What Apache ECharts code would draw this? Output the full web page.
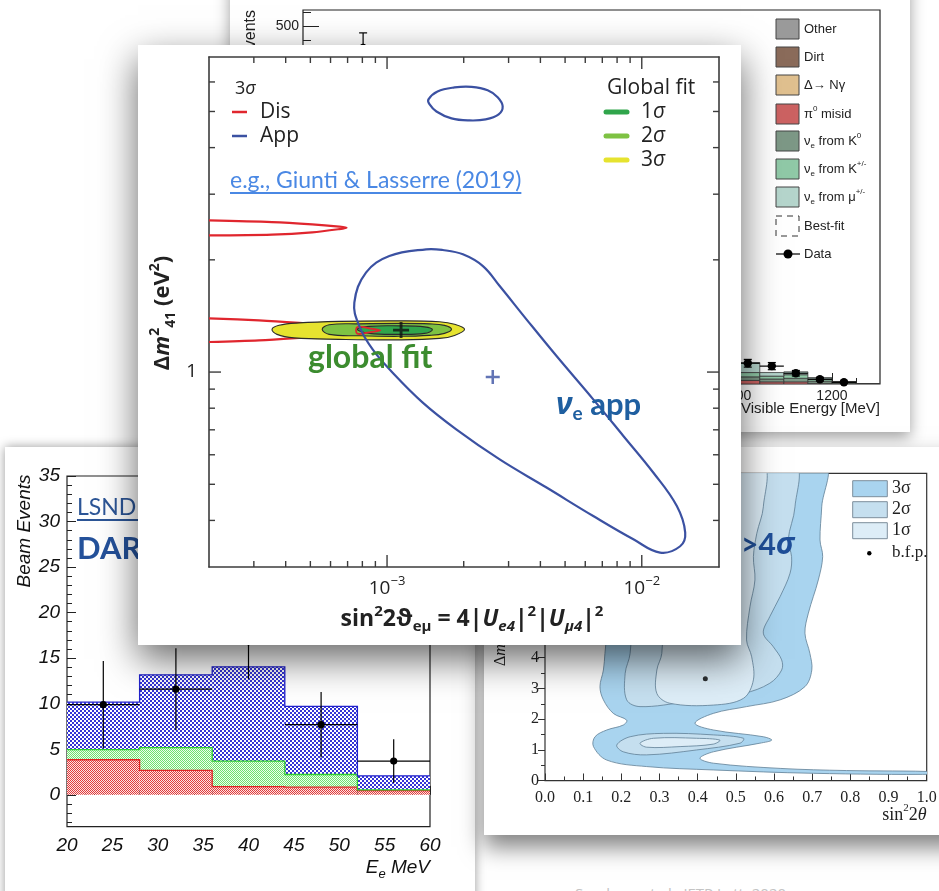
<!DOCTYPE html>
<html lang="en">
<head>
<meta charset="utf-8">
<title>Short-baseline oscillation hints</title>
<script src="https://cdn.jsdelivr.net/npm/echarts@6.0.0/dist/echarts.min.js"></script>
<style>
  html, body { margin:0; padding:0; background:#fff; }
  body { width:939px; height:891px; overflow:hidden; position:relative; }
  .panel { position:absolute; background:#fff; }
  #miniboone { left:230px; top:-20px; width:680px; height:452px; box-shadow:0 5px 14px rgba(0,0,0,.38); z-index:1; }
  #lsnd { left:5px; top:447px; width:470px; height:470px; box-shadow:0 0 10px rgba(0,0,0,.4); z-index:2; }
  #neutrino4 { left:484px; top:447px; width:480px; height:388px; box-shadow:0 12px 22px rgba(0,0,0,.5); z-index:2; }
  #globalfit { left:138px; top:45px; width:603px; height:600px; box-shadow:0 14px 36px rgba(0,0,0,.6); z-index:3; }
  #caption { position:absolute; left:575px; top:883px; font:15px 'Open Sans',sans-serif; color:#c4c4c4; white-space:nowrap; z-index:0; }
</style>
</head>
<body>
<div id="miniboone" class="panel"></div>
<div id="lsnd" class="panel"></div>
<div id="neutrino4" class="panel"></div>
<div id="globalfit" class="panel"></div>
<div id="caption">Serebrov et al., JETP Lett. 2020</div>
<script>
// ---------------------------------------------------------------------------
// Global-fit panel: sin^2 2theta_emu vs Δm²41 (log–log)
// ---------------------------------------------------------------------------
const gfXRange = [2e-4, 0.0201];
const gfYRange = [0.3, 7];
const gfXMajor = [1e-3, 1e-2];
const gfXMinor = [3e-4,4e-4,5e-4,6e-4,7e-4,8e-4,9e-4,2e-3,3e-3,4e-3,5e-3,6e-3,7e-3,8e-3,9e-3];
const gfYMajor = [1];
const gfYMinor = [0.4,0.5,0.6,0.7,0.8,0.9,2,3,4,5,6];

// 3σ disappearance contour (two islands, open towards small mixing)
const disUpper = [[2.0e-4,2.552],[3.535e-4,2.526],[5.081e-4,2.490],[6.490e-4,2.455],[6.933e-4,2.439],
                  [6.490e-4,2.418],[5.081e-4,2.370],[3.535e-4,2.337],[2.0e-4,2.326]];
const disLower = [[2.0e-4,1.393],[3.142e-4,1.376],[4.516e-4,1.355],[6.490e-4,1.330],[8.518e-4,1.310],
                  [9.410e-4,1.294],[8.518e-4,1.278],[6.490e-4,1.258],[4.516e-4,1.235],[3.142e-4,1.216],[2.0e-4,1.204]];
const disTip   = [[7.64e-4,1.320],[8.518e-4,1.310],[9.410e-4,1.294],[8.518e-4,1.278],[7.64e-4,1.268]];

// 3σ appearance contours
const appUpper = [[1.454e-3,5.39],[1.578e-3,5.66],[1.841e-3,5.80],[2.147e-3,5.82],[2.483e-3,5.70],
                  [2.718e-3,5.46],[2.844e-3,5.16],[2.743e-3,4.91],[2.438e-3,4.76],[2.109e-3,4.73],
                  [1.791e-3,4.79],[1.563e-3,5.00],[1.467e-3,5.23]];
const appLower = [[7.44e-4,1.535],[7.78e-4,1.328],[8.78e-4,1.150],[1.052e-3,0.996],[1.381e-3,0.828],
                  [1.869e-3,0.702],[2.768e-3,0.583],[4.227e-3,0.490],[6.449e-3,0.411],[9.267e-3,0.356],
                  [1.180e-2,0.328],[1.415e-2,0.341],[1.481e-2,0.371],[1.373e-2,0.437],[1.111e-2,0.537],
                  [8.466e-3,0.674],[6.449e-3,0.845],[4.628e-3,1.104],[3.526e-3,1.385],[2.768e-3,1.701],
                  [2.379e-3,1.924],[1.985e-3,2.069],[1.655e-3,2.125],[1.424e-3,2.134],[1.021e-3,2.047],
                  [8.265e-4,1.848]];

// global fit allowed regions
const fit3sigma = [[2.015e-3,1.302],[1.841e-3,1.343],[1.607e-3,1.364],[1.118e-3,1.372],[6.49e-4,1.368],
                   [4.516e-4,1.355],[3.767e-4,1.335],[3.535e-4,1.302],[3.699e-4,1.262],[4.315e-4,1.235],
                   [6.49e-4,1.224],[1.118e-3,1.220],[1.607e-3,1.231],[1.841e-3,1.254]];
const fit2sigma = [[1.791e-3,1.302],[1.681e-3,1.334],[1.467e-3,1.347],[1.118e-3,1.351],[7.78e-4,1.347],
                   [5.927e-4,1.339],[5.563e-4,1.302],[5.927e-4,1.262],[7.78e-4,1.251],[1.118e-3,1.247],
                   [1.467e-3,1.254],[1.681e-3,1.270]];
const fit1sigma = [[1.507e-3,1.298],[1.403e-3,1.322],[1.118e-3,1.330],[8.518e-4,1.326],[7.64e-4,1.302],
                   [8.518e-4,1.270],[1.118e-3,1.262],[1.403e-3,1.270]];
const appBest = [[2.60e-3, 0.970]];
const fitBest = [[1.135e-3, 1.296]];

// ---------------------------------------------------------------------------
// MiniBooNE visible-energy spectrum (high-energy tail)
// ---------------------------------------------------------------------------
const mbEdges  = [1000,1050,1100,1150,1200,1250,1300];
const mbPi0    = [5, 3, 3, 1, 0.5, 0.2];
const mbNueK0  = [5, 4, 5, 3, 1.5, 0.2];
const mbNueKpm = [6, 4, 5, 3, 1, 0.1];
const mbNueMu  = [14, 5, 4, 2, 0.5, 0];
const mbDataE   = [225, 1025, 1075, 1125, 1175, 1225];
const mbData    = [470, 29, 25, 15, 6.6, 2.4];
const mbDataErr = [21, 5.4, 5, 3.9, 2.6, 1.5];
const mbXTicks = [200,400,600,800,1000,1200];
const mbXMinor = [150,250,300,350,450,500,550,650,700,750,850,900,950,1050,1100,1150,1250];
const mbYLabels = [0,100,200,300,400,500];
const mbYTicks  = [100,200,300,400,500];
const mbYMinor  = [20,40,60,80,120,140,160,180,220,240,260,280,320,340,360,380,420,440,460,480,520];

// ---------------------------------------------------------------------------
// LSND decay-at-rest excess
// ---------------------------------------------------------------------------
const lsndEdges   = [20,28,36,44,52,60];
const lsndBkgMu   = [3.85, 2.68, 0.91, 0.84, 0.47];
const lsndBkgPi   = [1.11, 2.50, 2.79, 1.39, 0.08];
const lsndOsc     = [5.21, 7.99, 10.35, 7.49, 1.54];
const lsndCentres = [24, 32, 40, 48, 56];
const lsndEvents  = [9.9, 11.6, 16.8, 7.7, 3.7];
const lsndErr     = [4.8, 4.5, 4.1, 3.6, 2.4];
const lsndYTicks  = [0,5,10,15,20,25,30,35];
const lsndYMinor  = [-3,-2,-1,1,2,3,4,6,7,8,9,11,12,13,14,16,17,18,19,21,22,23,24,26,27,28,29,31,32,33,34];

// ---------------------------------------------------------------------------
// Reactor sin^2 2theta – Δm² allowed regions
// ---------------------------------------------------------------------------
const n4Sigma3 = [[0.15,10.3],[0.729,10.3],[0.725,8.91],[0.7205,7.83],[0.7275,7.29],[0.716,6.53],[0.690,5.45],
                  [0.681,4.80],[0.694,4.14],[0.699,3.60],[0.681,3.06],[0.616,2.63],[0.528,2.41],[0.441,2.19],
                  [0.393,1.87],[0.441,1.65],[0.572,1.43],[0.594,1.32],[0.563,1.22],[0.441,0.94],[0.406,0.73],
                  [0.441,0.57],[0.616,0.40],[0.79,0.33],[1.03,0.29],[1.03,0.21],[0.703,0.24],[0.441,0.35],
                  [0.266,0.46],[0.162,0.67],[0.127,1.11],[0.131,1.43],[0.162,1.65],[0.205,1.81],[0.214,1.97],
                  [0.179,2.19],[0.153,2.63],[0.144,3.06],[0.153,3.60],[0.157,4.14],[0.165,5.5],[0.15,7.5]];
const n4Sigma2Upper = [[0.22,10.3],[0.6505,10.3],[0.655,8.91],[0.637,7.83],[0.646,7.29],[0.642,6.75],[0.616,5.99],
                       [0.589,5.34],[0.572,4.80],[0.598,4.36],[0.620,3.93],[0.620,3.60],[0.589,3.17],[0.520,2.84],
                       [0.371,2.57],[0.249,2.41],[0.214,2.63],[0.210,3.49],[0.223,4.14],[0.23,6.0]];
const n4Sigma2Lobe  = [[0.188,1.16],[0.223,1.43],[0.310,1.54],[0.441,1.49],[0.520,1.38],[0.511,1.22],
                       [0.397,1.00],[0.266,0.84],[0.205,0.94]];
const n4Sigma1Upper = [[0.30,10.3],[0.568,10.3],[0.572,8.91],[0.555,8.05],[0.546,7.29],[0.550,6.53],[0.537,5.66],
                       [0.528,4.58],[0.5415,4.03],[0.546,3.28],[0.520,2.68],[0.441,2.46],[0.327,2.52],[0.293,2.84],
                       [0.293,3.60],[0.306,4.14],[0.31,6.0]];
const n4Sigma1Lobe  = [[0.249,1.22],[0.284,1.38],[0.397,1.38],[0.458,1.32],[0.441,1.19],[0.354,1.11],[0.266,1.09]];
const n4BestFit = [[0.42, 3.32]];

// ---------------------------------------------------------------------------
const SANS  = "'Open Sans','Noto Sans','DejaVu Sans',sans-serif";
const LATO  = "Lato,'Open Sans','DejaVu Sans',sans-serif";
const HELV  = "'Liberation Sans',Arial,'DejaVu Sans',sans-serif";
const SERIF = "'Liberation Serif','DejaVu Serif',serif";
const RED = '#e0262e', BLUE = '#3b51a2';
const PLUS = 'path://M4.1,0h1.8v10h-1.8zM0,4.1h10v1.8h-10z';

const measureCtx = document.createElement('canvas').getContext('2d');
function textWidth(text, font) { measureCtx.font = font; return measureCtx.measureText(text).width; }

// closed or open contour through the chart's own coordinate system
function contour(points, style, z, closed, smooth) {
  return {
    type: 'custom', coordinateSystem: 'cartesian2d', silent: true, clip: true, z,
    data: [points[0]],
    renderItem: (params, api) => ({
      type: closed ? 'polygon' : 'polyline',
      shape: { points: points.map(p => api.coord(p)), smooth: smooth },
      style: Object.assign({ fill: 'none' }, style)
    })
  };
}
function cumulative(layers) {
  const out = [];
  let base = layers[0].map(() => 0);
  layers.forEach(l => { const top = l.map((v, i) => base[i] + v); out.push([base, top]); base = top; });
  return out;
}
function histSeries(edges, lower, upper, style, z) {
  return {
    type: 'custom', silent: true, clip: true, z,
    data: upper.map((v, i) => [(edges[i] + edges[i + 1]) / 2, v]),
    renderItem(params, api) {
      const i = params.dataIndex;
      const a = api.coord([edges[i], lower[i]]);
      const b = api.coord([edges[i + 1], upper[i]]);
      return { type: 'rect', shape: { x: a[0], y: b[1], width: b[0] - a[0], height: a[1] - b[1] }, style };
    }
  };
}
function stepSeries(edges, upper, stroke, lw, z) {
  return {
    type: 'custom', silent: true, clip: true, z,
    data: [[edges[0], upper[0]]],
    renderItem(params, api) {
      const pts = [];
      upper.forEach((v, i) => { pts.push(api.coord([edges[i], v])); pts.push(api.coord([edges[i + 1], v])); });
      return { type: 'polyline', shape: { points: pts }, style: { stroke, lineWidth: lw, fill: 'none' } };
    }
  };
}
function pointsWithErrors(xs, ys, errs, half, opt, z) {
  return {
    type: 'custom', silent: true, clip: false, z,
    data: xs.map((x, i) => [x, ys[i]]),
    renderItem(params, api) {
      const i = params.dataIndex, x = xs[i], y = ys[i], e = errs[i];
      const c = api.coord([x, y]), t = api.coord([x, y + e]), b = api.coord([x, y - e]);
      const l = api.coord([x - half, y]), r = api.coord([x + half, y]);
      const ls = { stroke: '#000', lineWidth: opt.lw };
      const kids = [
        { type: 'line', shape: { x1: c[0], y1: t[1], x2: c[0], y2: b[1] }, style: ls },
        { type: 'line', shape: { x1: l[0], y1: c[1], x2: r[0], y2: c[1] }, style: ls },
        { type: 'circle', shape: { cx: c[0], cy: c[1], r: opt.r }, style: { fill: '#000' } }
      ];
      if (opt.cap) {
        kids.push({ type: 'line', shape: { x1: c[0] - opt.cap, y1: t[1], x2: c[0] + opt.cap, y2: t[1] }, style: ls });
        kids.push({ type: 'line', shape: { x1: c[0] - opt.cap, y1: b[1], x2: c[0] + opt.cap, y2: b[1] }, style: ls });
      }
      return { type: 'group', children: kids };
    }
  };
}
function pattern(size, bg, fg, cells) {
  const c = document.createElement('canvas');
  c.width = c.height = size;
  const g = c.getContext('2d');
  g.fillStyle = bg; g.fillRect(0, 0, size, size);
  g.fillStyle = fg; cells.forEach(([x, y]) => g.fillRect(x, y, 1, 1));
  return { image: c, repeat: 'repeat' };
}
function txt(x, y, text, style, extra) {
  return Object.assign({ type: 'text', x, y, z: 100, silent: true,
    style: Object.assign({ text, verticalAlign: 'middle', textVerticalAlign: 'middle' }, style) }, extra || {});
}

// ======================= MiniBooNE panel ===================================
(function () {
  const chart = echarts.init(document.getElementById('miniboone'));
  const stack = cumulative([mbPi0, mbNueK0, mbNueKpm, mbNueMu]);
  const fills = ['#cc6262', '#7d9886', '#90c9a7', '#b5d5cc'];
  const series = stack.map((s, k) => histSeries(mbEdges, s[0], s[1], { fill: fills[k], stroke: '#3a3a3a', lineWidth: 0.8 }, 2 + k));
  series.push(pointsWithErrors(mbDataE, mbData, mbDataErr, 25, { lw: 1.2, r: 4.2, cap: 4 }, 10));

  const legend = [
    { label: 'Other', fill: '#9a9a9a' },
    { label: 'Dirt', fill: '#8a6b5a' },
    { label: '{t|Δ→ Nγ}', fill: '#e0c08f' },
    { label: '{t|π}{sup|0}{t| misid}', fill: '#cc6262' },
    { label: '{t|ν}{sub|e}{t| from K}{sup|0}', fill: '#7d9886' },
    { label: '{t|ν}{sub|e}{t| from K}{sup|+/-}', fill: '#90c9a7' },
    { label: '{t|ν}{sub|e}{t| from μ}{sup|+/-}', fill: '#b5d5cc' },
    { label: 'Best-fit', dashed: true },
    { label: 'Data', marker: true }
  ];
  const rowY = [49, 77, 105, 134, 161, 189, 217, 246, 274];
  const rich = {
    t: { fontSize: 13, fontFamily: HELV, fill: '#222', lineHeight: 18 },
    sup: { fontSize: 8, fontFamily: HELV, fill: '#222', lineHeight: 9, verticalAlign: 'top' },
    sub: { fontSize: 8, fontFamily: HELV, fill: '#222', lineHeight: 9, verticalAlign: 'bottom' }
  };
  const g = [];
  legend.forEach((it, i) => {
    const y = rowY[i];
    if (it.marker) {
      g.push({ type: 'line', z: 100, shape: { x1: 546, y1: y, x2: 570, y2: y }, style: { stroke: '#000', lineWidth: 1.2 } });
      g.push({ type: 'circle', z: 100, shape: { cx: 558, cy: y, r: 4.5 }, style: { fill: '#000' } });
    } else if (it.dashed) {
      g.push({ type: 'rect', z: 100, shape: { x: 546, y: y - 10, width: 23, height: 20 }, style: { fill: 'none', stroke: '#333', lineWidth: 1, lineDash: [6, 5] } });
    } else {
      g.push({ type: 'rect', z: 100, shape: { x: 546, y: y - 10, width: 23, height: 20 }, style: { fill: it.fill, stroke: '#444', lineWidth: 1 } });
    }
    const label = it.label.indexOf('{') === 0 ? it.label : '{t|' + it.label + '}';
    g.push(txt(574, y, label, { rich, fill: '#222' }));
  });
  g.push(txt(21, 30, 'Events', { fontSize: 16, fontFamily: HELV, fill: '#222', align: 'right', textAlign: 'right' }, { rotation: Math.PI / 2 }));
  g.push(txt(650, 429, 'Visible Energy [MeV]', { fontSize: 15, fontFamily: HELV, fill: '#222', align: 'right', textAlign: 'right' }));

  chart.setOption({
    animation: false,
    grid: { left: 73, top: 30, width: 577, height: 374, show: true, borderColor: '#222', borderWidth: 1.2, backgroundColor: 'rgba(0,0,0,0)' },
    xAxis: [
      { type: 'value', min: 100, max: 1300, position: 'bottom', axisLine: { show: false },
        axisTick: { inside: true, length: 11, customValues: mbXTicks, lineStyle: { color: '#222' } },
        axisLabel: { customValues: mbXTicks, margin: 5, fontSize: 14, fontFamily: HELV, color: '#222', formatter: v => String(v) },
        splitLine: { show: false } },
      { type: 'value', min: 100, max: 1300, position: 'bottom', axisLine: { show: false },
        axisTick: { inside: true, length: 6, customValues: mbXMinor, lineStyle: { color: '#222' } },
        axisLabel: { show: false }, splitLine: { show: false } }
    ],
    yAxis: [
      { type: 'value', min: 0, max: 523, position: 'left', axisLine: { show: false },
        axisTick: { inside: true, length: 16, customValues: mbYTicks, lineStyle: { color: '#222' } },
        axisLabel: { customValues: mbYLabels, margin: 4, fontSize: 14, fontFamily: HELV, color: '#222', formatter: v => String(v) },
        splitLine: { show: false } },
      { type: 'value', min: 0, max: 523, position: 'left', axisLine: { show: false },
        axisTick: { inside: true, length: 8, customValues: mbYMinor, lineStyle: { color: '#222' } },
        axisLabel: { show: false }, splitLine: { show: false } }
    ],
    series,
    graphic: g
  });
})();

// ======================= LSND panel ========================================
(function () {
  const chart = echarts.init(document.getElementById('lsnd'));
  const stack = cumulative([lsndBkgMu, lsndBkgPi, lsndOsc]);
  const fills = [
    pattern(2, '#fbe4e4', '#e23b3b', [[0, 0], [1, 1]]),
    pattern(2, '#eefdee', '#6ee26e', [[0, 0], [1, 1]]),
    pattern(4, '#ffffff', '#3434d6', [[0, 0], [1, 1], [2, 2], [3, 3], [3, 0], [2, 1], [1, 2], [0, 3]])
  ];
  const edgeCols = ['#e02424', '#2fcf2f', '#2222cc'];
  const series = [];
  stack.forEach((s, k) => {
    series.push(histSeries(lsndEdges, s[0], s[1], { fill: fills[k] }, 2 + k));
    series.push(stepSeries(lsndEdges, s[1], edgeCols[k], 1.3, 6 + k));
  });
  series.push(pointsWithErrors(lsndCentres, lsndEvents, lsndErr, 4, { lw: 1.2, r: 3.6 }, 12));

  const linkFont = `23px ${LATO}`;
  const linkW = textWidth('LSND (2001)', linkFont);
  const g = [
    txt(20, 84, 'Beam Events', { fontSize: 19, fontStyle: 'italic', fontFamily: HELV, fill: '#111', align: 'center', textAlign: 'center' }, { rotation: Math.PI / 2 }),
    txt(425, 421, '{i|E}{s|e}{i| MeV}', { align: 'right', textAlign: 'right', rich: {
      i: { fontSize: 19, fontStyle: 'italic', fontFamily: HELV, fill: '#111', lineHeight: 26 },
      s: { fontSize: 13, fontStyle: 'italic', fontFamily: HELV, fill: '#111', lineHeight: 13, verticalAlign: 'bottom' } } }),
    txt(72, 61, 'LSND (2001)', { fontSize: 23, fontFamily: LATO, fill: '#2c5596' }),
    { type: 'line', z: 100, shape: { x1: 72, y1: 73, x2: 72 + linkW, y2: 73 }, style: { stroke: '#2c5596', lineWidth: 2 } },
    txt(72, 102, '{b|DAR ν̄}{s|e}{b| app}', { rich: {
      b: { fontSize: 31, fontWeight: 'bold', fontFamily: LATO, fill: '#24519a', lineHeight: 38 },
      s: { fontSize: 18, fontWeight: 'bold', fontFamily: LATO, fill: '#24519a', lineHeight: 18, verticalAlign: 'bottom' } } })
  ];

  chart.setOption({
    animation: false,
    grid: { left: 62, top: 29, width: 363, height: 350.7, show: true, borderColor: '#222', borderWidth: 1.2, backgroundColor: 'rgba(0,0,0,0)' },
    xAxis: { type: 'value', min: 20, max: 60, interval: 5, axisLine: { show: false },
      axisTick: { inside: true, length: 9, lineStyle: { color: '#222' } },
      minorTick: { show: true, splitNumber: 5, length: 5, lineStyle: { color: '#222' } },
      axisLabel: { margin: 10, fontSize: 19, fontStyle: 'italic', fontFamily: HELV, color: '#111' },
      splitLine: { show: false }, minorSplitLine: { show: false } },
    yAxis: [
      { type: 'value', min: -3.5, max: 35, position: 'left', axisLine: { show: false },
        axisTick: { inside: true, length: 9, customValues: lsndYTicks, lineStyle: { color: '#222' } },
        axisLabel: { customValues: lsndYTicks, margin: 7, fontSize: 19, fontStyle: 'italic', fontFamily: HELV, color: '#111' },
        splitLine: { show: false } },
      { type: 'value', min: -3.5, max: 35, position: 'left', axisLine: { show: false },
        axisTick: { inside: true, length: 5, customValues: lsndYMinor, lineStyle: { color: '#222' } },
        axisLabel: { show: false }, splitLine: { show: false } }
    ],
    series,
    graphic: g
  });
})();

// ======================= reactor panel =====================================
(function () {
  const chart = echarts.init(document.getElementById('neutrino4'));
  const edge = { stroke: '#5f7f96', lineWidth: 0.8 };
  const c3 = '#a9d4ef', c2 = '#c5dfef', c1 = '#ddedf7';
  const series = [
    contour(n4Sigma3, Object.assign({ fill: c3 }, edge), 2, true, 0.35),
    contour(n4Sigma2Upper, Object.assign({ fill: c2 }, edge), 3, true, 0.35),
    contour(n4Sigma2Lobe, Object.assign({ fill: c2 }, edge), 3, true, 0.35),
    contour(n4Sigma1Upper, Object.assign({ fill: c1 }, edge), 4, true, 0.35),
    contour(n4Sigma1Lobe, Object.assign({ fill: c1 }, edge), 4, true, 0.35),
    { type: 'scatter', data: n4BestFit, symbol: 'circle', symbolSize: 5, itemStyle: { color: '#000' }, z: 6, silent: true }
  ];
  const tick = { color: '#333' };
  const sig = (n) => ({ text: `{n|${n}}{g|σ}`, rich: {
    n: { fontSize: 18, fontFamily: SERIF, fill: '#222' }, g: { fontSize: 18, fontFamily: SERIF, fill: '#222' } } });
  const boxes = [[33.7, c3, '3'], [54.7, c2, '2'], [75.7, c1, '1']];
  const g = [];
  boxes.forEach(([y, c, n]) => {
    g.push({ type: 'rect', z: 100, shape: { x: 368.7, y, width: 34.6, height: 16 }, style: { fill: c, stroke: '#7d8e9c', lineWidth: 1 } });
    g.push(txt(408, y + 8, null, sig(n)));
  });
  g.push({ type: 'circle', z: 100, shape: { cx: 385.3, cy: 106.3, r: 2.2 }, style: { fill: '#000' } });
  g.push(txt(408, 106, 'b.f.p.', { fontSize: 17, fontFamily: SERIF, fill: '#222' }));
  g.push(txt(442.7, 368, '{t|sin}{s|2}{t|2}{i|θ}', { align: 'right', textAlign: 'right', rich: {
    t: { fontSize: 18, fontFamily: SERIF, fill: '#222', lineHeight: 24 },
    i: { fontSize: 18, fontFamily: SERIF, fontStyle: 'italic', fill: '#222', lineHeight: 24 },
    s: { fontSize: 11, fontFamily: SERIF, fill: '#222', lineHeight: 12, verticalAlign: 'top' } } }));
  g.push(txt(17, 219, '{t|Δ}{i|m}{s|2}{t|, eV}{s|2}', { align: 'left', textAlign: 'left', rich: {
    t: { fontSize: 16, fontFamily: SERIF, fill: '#222', lineHeight: 22 },
    i: { fontSize: 16, fontFamily: SERIF, fontStyle: 'italic', fill: '#222', lineHeight: 22 },
    s: { fontSize: 10, fontFamily: SERIF, fill: '#222', lineHeight: 11, verticalAlign: 'top' } } }, { rotation: Math.PI / 2 }));
  g.push(txt(257, 98, '{b|>4}{g|σ}', { rich: {
    b: { fontSize: 30, fontWeight: 'bold', fontFamily: LATO, fill: '#1f4f99' },
    g: { fontSize: 30, fontWeight: 'bold', fontStyle: 'italic', fontFamily: SANS, fill: '#1f4f99' } } }));

  chart.setOption({
    animation: false,
    grid: { left: 61, top: 26.3, width: 381.7, height: 307.4, show: true, borderColor: '#333', borderWidth: 1.2, backgroundColor: 'rgba(0,0,0,0)' },
    xAxis: [
      { type: 'value', min: 0, max: 1, interval: 0.1, position: 'bottom', axisLine: { show: false },
        axisTick: { inside: true, length: 7, lineStyle: tick }, minorTick: { show: true, splitNumber: 2, length: 4, lineStyle: tick },
        axisLabel: { margin: 9, fontSize: 16, fontFamily: SERIF, color: '#222', formatter: v => v.toFixed(1) }, splitLine: { show: false } },
      { type: 'value', min: 0, max: 1, interval: 0.1, position: 'top', axisLine: { show: false },
        axisTick: { inside: false, length: 7, lineStyle: tick }, minorTick: { show: true, splitNumber: 2, length: 4, lineStyle: tick },
        axisLabel: { show: false }, splitLine: { show: false } }
    ],
    yAxis: [
      { type: 'value', min: 0, max: 10, interval: 1, position: 'left', axisLine: { show: false },
        axisTick: { inside: false, length: 7, lineStyle: tick }, minorTick: { show: true, splitNumber: 2, length: 4, lineStyle: tick },
        axisLabel: { margin: 6, fontSize: 16, fontFamily: SERIF, color: '#222' }, splitLine: { show: false } },
      { type: 'value', min: 0, max: 10, interval: 1, position: 'right', axisLine: { show: false },
        axisTick: { inside: true, length: 7, lineStyle: tick }, minorTick: { show: true, splitNumber: 2, length: 4, lineStyle: tick },
        axisLabel: { show: false }, splitLine: { show: false } }
    ],
    series,
    graphic: g
  });
})();

// ======================= global-fit panel ==================================
(function () {
  const chart = echarts.init(document.getElementById('globalfit'));
  const axisCol = '#3c3c3c';
  const labelRich = {
    m: { fontSize: 19, fontFamily: SANS, color: '#222', lineHeight: 28 },
    e: { fontSize: 13, fontFamily: SANS, color: '#222', lineHeight: 13, verticalAlign: 'top' }
  };
  function logAxis(kind, position, label) {
    const range = kind === 'x' ? gfXRange : gfYRange;
    const ax = {
      type: 'log', logBase: 10, position, min: range[0], max: range[1],
      axisLine: { show: true, onZero: false, lineStyle: { color: axisCol, width: 1.6 } },
      axisTick: { show: false }, axisLabel: { show: false },
      splitLine: { show: false }, minorTick: { show: false }
    };
    if (label && kind === 'x') {
      ax.axisLabel = { show: true, customValues: gfXMajor, margin: 8,
        formatter: v => `{m|10}{e|−${Math.round(-Math.log10(v))}}`, rich: labelRich };
    } else if (label) {
      ax.axisLabel = { show: true, customValues: gfYMajor, margin: 12, fontSize: 19, fontFamily: SANS, color: '#222',
        formatter: v => String(v) };
    }
    return ax;
  }

  // inward tick marks on all four sides of the frame, placed on the log scales
  const frameTicks = {
    type: 'custom', silent: true, clip: false, z: 20,
    data: [[gfXMajor[0], gfYMajor[0]]],
    renderItem(params, api) {
      const lo = api.coord([gfXRange[0], gfYRange[0]]);
      const hi = api.coord([gfXRange[1], gfYRange[1]]);
      const style = { stroke: axisCol, lineWidth: 1.4 };
      const kids = [];
      const xTick = (v, len) => {
        const x = api.coord([v, gfYMajor[0]])[0];
        kids.push({ type: 'line', shape: { x1: x, y1: lo[1], x2: x, y2: lo[1] - len }, style });
        kids.push({ type: 'line', shape: { x1: x, y1: hi[1], x2: x, y2: hi[1] + len }, style });
      };
      const yTick = (v, len) => {
        const y = api.coord([gfXMajor[0], v])[1];
        kids.push({ type: 'line', shape: { x1: lo[0], y1: y, x2: lo[0] + len, y2: y }, style });
        kids.push({ type: 'line', shape: { x1: hi[0], y1: y, x2: hi[0] - len, y2: y }, style });
      };
      gfXMajor.forEach(v => xTick(v, 12));
      gfXMinor.forEach(v => xTick(v, 6));
      gfYMajor.forEach(v => yTick(v, 12));
      gfYMinor.forEach(v => yTick(v, 6));
      return { type: 'group', children: kids };
    }
  };

  const series = [
    contour(disUpper, { stroke: RED, lineWidth: 2.2 }, 2, false, 0.3),
    contour(disLower, { stroke: RED, lineWidth: 2.2 }, 2, false, 0.3),
    contour(fit3sigma, { fill: '#e6e32f', stroke: '#2b2b2b', lineWidth: 1.1 }, 3, true, 0.4),
    contour(fit2sigma, { fill: '#7ec243', stroke: '#2b2b2b', lineWidth: 1.1 }, 4, true, 0.4),
    contour(fit1sigma, { fill: '#30a54b', stroke: '#2b2b2b', lineWidth: 1.1 }, 5, true, 0.4),
    contour(disTip, { stroke: RED, lineWidth: 1.8 }, 6, true, 0.4),
    contour(appUpper, { stroke: BLUE, lineWidth: 2.2 }, 7, true, 0.4),
    contour(appLower, { stroke: BLUE, lineWidth: 2.2 }, 7, true, 0.4),
    { type: 'scatter', data: appBest, symbol: PLUS, symbolSize: 14, itemStyle: { color: BLUE }, z: 8, silent: true },
    { type: 'scatter', data: fitBest, symbol: PLUS, symbolSize: 16, itemStyle: { color: '#111' }, z: 9, silent: true },
    frameTicks
  ];

  const legendFont = { fontSize: 21, fontFamily: SANS, fill: '#222' };
  const sigmaRich = (size) => ({
    n: { fontSize: size, fontFamily: SANS, fill: '#222' },
    g: { fontSize: size, fontFamily: SANS, fontStyle: 'italic', fill: '#222' }
  });
  const linkFont = `23px ${LATO}`;
  const linkText = 'e.g., Giunti & Lasserre (2019)';
  const linkW = textWidth(linkText, linkFont);
  const g = [
    txt(97, 44, '{n|3}{g|σ}', { rich: sigmaRich(18) }),
    { type: 'line', z: 100, shape: { x1: 94, y1: 67, x2: 109, y2: 67 }, style: { stroke: RED, lineWidth: 2.5 } },
    txt(122, 67, 'Dis', legendFont),
    { type: 'line', z: 100, shape: { x1: 94, y1: 91, x2: 109, y2: 91 }, style: { stroke: BLUE, lineWidth: 2.5 } },
    txt(122, 91, 'App', legendFont),
    txt(92, 136, linkText, { fontSize: 23, fontFamily: LATO, fill: '#4a88e4' }),
    { type: 'line', z: 100, shape: { x1: 92, y1: 148, x2: 92 + linkW, y2: 148 }, style: { stroke: '#4a88e4', lineWidth: 2 } },
    txt(469, 43, 'Global fit', legendFont),
    { type: 'line', z: 100, shape: { x1: 468, y1: 67, x2: 489, y2: 67 }, style: { stroke: '#30a54b', lineWidth: 5, lineCap: 'round' } },
    { type: 'line', z: 100, shape: { x1: 468, y1: 91, x2: 489, y2: 91 }, style: { stroke: '#7ec243', lineWidth: 5, lineCap: 'round' } },
    { type: 'line', z: 100, shape: { x1: 468, y1: 115, x2: 489, y2: 115 }, style: { stroke: '#e6e32f', lineWidth: 5, lineCap: 'round' } },
    txt(503, 67, '{n|1}{g|σ}', { rich: sigmaRich(21) }),
    txt(503, 91, '{n|2}{g|σ}', { rich: sigmaRich(21) }),
    txt(503, 115, '{n|3}{g|σ}', { rich: sigmaRich(21) }),
    txt(170, 313, 'global fit', { fontSize: 32, fontWeight: 'bold', fontFamily: LATO, fill: '#3c8c2f' }),
    txt(418, 360, '{nu|ν}{s|e}{t| app}', { rich: {
      nu: { fontSize: 30, fontWeight: 'bold', fontStyle: 'italic', fontFamily: SANS, fill: '#1f5fa0', lineHeight: 36 },
      s: { fontSize: 19, fontWeight: 'bold', fontFamily: LATO, fill: '#1f5fa0', lineHeight: 20, verticalAlign: 'bottom' },
      t: { fontSize: 31, fontWeight: 'bold', fontFamily: LATO, fill: '#1f5fa0', lineHeight: 36 } } }),
    txt(25, 268, '{b|Δ}{bi|m}{bs|2}{bb|41}{b| (eV}{bs|2}{b|)}', { align: 'center', textAlign: 'center', rich: {
      b: { fontSize: 22, fontWeight: 'bold', fontFamily: SANS, fill: '#222', lineHeight: 30 },
      bi: { fontSize: 22, fontWeight: 'bold', fontStyle: 'italic', fontFamily: SANS, fill: '#222', lineHeight: 30 },
      bs: { fontSize: 14, fontWeight: 'bold', fontFamily: SANS, fill: '#222', lineHeight: 14, verticalAlign: 'top' },
      bb: { fontSize: 14, fontWeight: 'bold', fontFamily: SANS, fill: '#222', lineHeight: 14, verticalAlign: 'bottom' } } },
      { rotation: Math.PI / 2 }),
    txt(334, 574, '{b|sin}{bs|2}{b|2ϑ}{bb|eμ}{b| = 4|}{bi|U}{bbi|e4}{b||}{bs|2}{b||}{bi|U}{bbi|μ4}{b||}{bs|2}', {
      align: 'center', textAlign: 'center', rich: {
      b: { fontSize: 23, fontWeight: 'bold', fontFamily: SANS, fill: '#222', lineHeight: 30 },
      bi: { fontSize: 23, fontWeight: 'bold', fontStyle: 'italic', fontFamily: SANS, fill: '#222', lineHeight: 30 },
      bs: { fontSize: 15, fontWeight: 'bold', fontFamily: SANS, fill: '#222', lineHeight: 14, verticalAlign: 'top' },
      bb: { fontSize: 15, fontWeight: 'bold', fontFamily: SANS, fill: '#222', lineHeight: 14, verticalAlign: 'bottom' },
      bbi: { fontSize: 15, fontWeight: 'bold', fontStyle: 'italic', fontFamily: SANS, fill: '#222', lineHeight: 14, verticalAlign: 'bottom' } } })
  ];

  chart.setOption({
    animation: false,
    grid: { left: 71, top: 12, width: 510, height: 510, show: false },
    xAxis: [ logAxis('x', 'bottom', true), logAxis('x', 'top', false) ],
    yAxis: [ logAxis('y', 'left', true), logAxis('y', 'right', false) ],
    series,
    graphic: g
  });
})();
</script>
</body>
</html>
